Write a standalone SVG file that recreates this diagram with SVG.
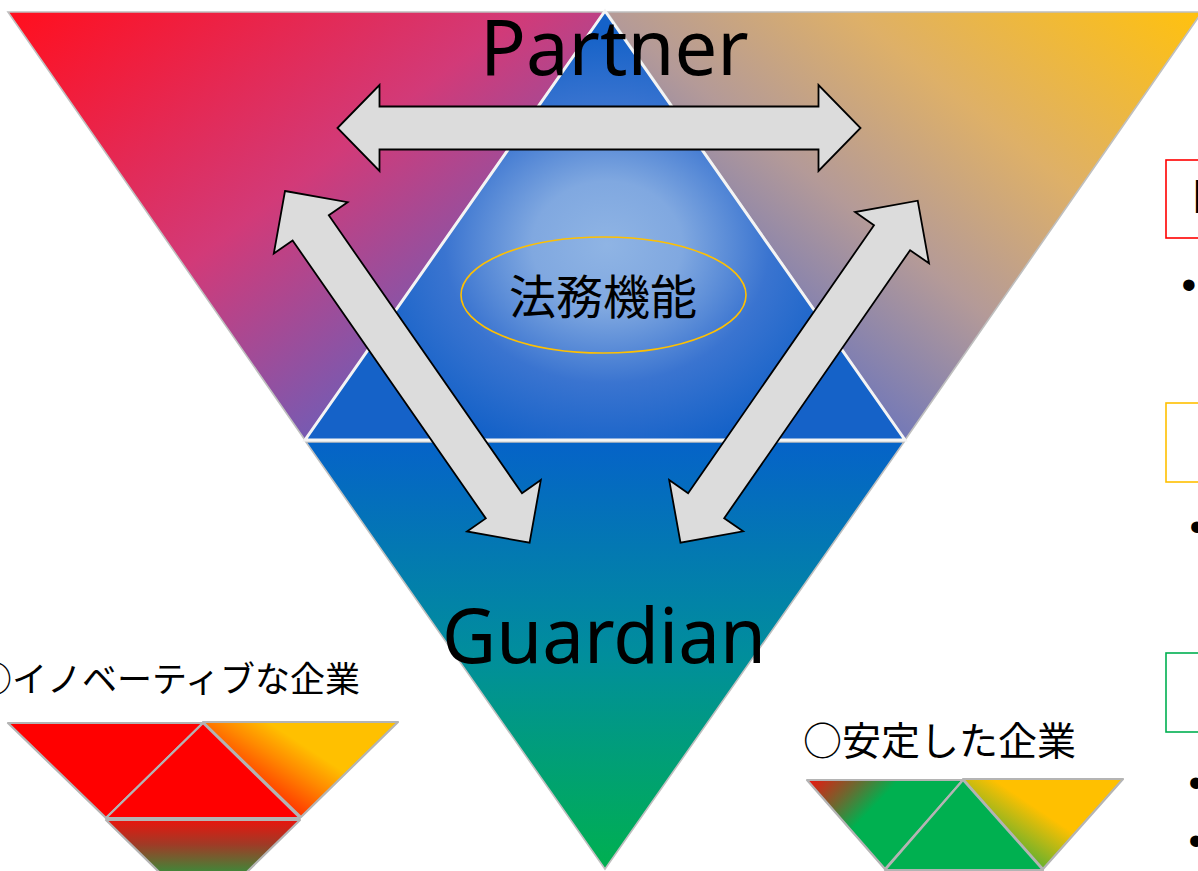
<svg xmlns="http://www.w3.org/2000/svg" width="1198" height="871" viewBox="0 0 1198 871">
<style>
.tri{stroke:#bfbfbf;stroke-width:1.6;stroke-linejoin:miter}
.small{stroke:#b4b4b4;stroke-width:2.2;stroke-linejoin:round}
.arrow{fill:#dcdcdc;stroke:#000;stroke-width:1.8;stroke-linejoin:miter}
.big{font-family:"Noto Sans","DejaVu Sans",sans-serif;fill:#000}
.jp{font-family:"Noto Sans CJK JP","Noto Sans",sans-serif;fill:#000}
.bul{font-family:"Liberation Sans",Arial,sans-serif;font-size:42px;fill:#000}
.box{fill:#fff;stroke-width:1.6}
</style>
<defs>
<linearGradient id="gLeft" gradientUnits="userSpaceOnUse" x1="40" y1="0" x2="400" y2="480">
<stop offset="0" stop-color="#ff1020"/>
<stop offset="0.5" stop-color="#d23a78"/>
<stop offset="0.9" stop-color="#6a5fba"/>
<stop offset="1" stop-color="#6360bc"/>
</linearGradient>
<linearGradient id="gRight" gradientUnits="userSpaceOnUse" x1="1180" y1="0" x2="800" y2="480">
<stop offset="0" stop-color="#ffc10f"/>
<stop offset="0.35" stop-color="#deb068"/>
<stop offset="0.6" stop-color="#b49a98"/>
<stop offset="0.85" stop-color="#7278b8"/>
<stop offset="1" stop-color="#6a74bc"/>
</linearGradient>
<radialGradient id="gCenter" gradientUnits="userSpaceOnUse" cx="607" cy="245" r="250" gradientTransform="translate(607 245) scale(1 0.85) translate(-607 -245)">
<stop offset="0" stop-color="#8fb4e4"/>
<stop offset="0.3" stop-color="#80a8e0"/>
<stop offset="0.65" stop-color="#3a74d0"/>
<stop offset="1" stop-color="#1562c8"/>
</radialGradient>
<linearGradient id="gBottom" gradientUnits="userSpaceOnUse" x1="0" y1="443" x2="0" y2="868">
<stop offset="0" stop-color="#0563c8"/>
<stop offset="0.5" stop-color="#018e9c"/>
<stop offset="1" stop-color="#00b050"/>
</linearGradient>
<linearGradient id="gInnoR" gradientUnits="userSpaceOnUse" x1="288" y1="812" x2="335" y2="740">
<stop offset="0" stop-color="#ff3000"/>
<stop offset="0.45" stop-color="#ff8a00"/>
<stop offset="0.75" stop-color="#ffc000"/>
<stop offset="1" stop-color="#ffc000"/>
</linearGradient>
<linearGradient id="gInnoB" gradientUnits="userSpaceOnUse" x1="0" y1="820" x2="0" y2="874">
<stop offset="0" stop-color="#e8160e"/>
<stop offset="0.45" stop-color="#a03a26"/>
<stop offset="1" stop-color="#3a8c3a"/>
</linearGradient>
<linearGradient id="gStabL" gradientUnits="userSpaceOnUse" x1="810" y1="780" x2="868" y2="836">
<stop offset="0" stop-color="#e81810"/>
<stop offset="0.45" stop-color="#6a6a30"/>
<stop offset="0.8" stop-color="#00b050"/>
<stop offset="1" stop-color="#00b050"/>
</linearGradient>
<linearGradient id="gStabR" gradientUnits="userSpaceOnUse" x1="1025" y1="860" x2="1075" y2="785">
<stop offset="0" stop-color="#60b030"/>
<stop offset="0.55" stop-color="#ffc000"/>
<stop offset="1" stop-color="#ffc000"/>
</linearGradient>
</defs>

<rect width="1198" height="871" fill="#fff"/>

<g id="node-left">
<polygon class="tri" points="8,12 604,12 305,440" fill="url(#gLeft)"/>
</g>
<g id="node-right">
<polygon class="tri" points="607,12 1202,12 905,440" fill="url(#gRight)"/>
</g>
<g id="node-bottom">
<polygon class="tri" points="306,442 904,442 605,869" fill="url(#gBottom)"/>
</g>
<g id="node-center">
<polygon points="605,11 305,440 905,440" fill="url(#gCenter)" stroke="#f4f4f4" stroke-width="3" stroke-linejoin="miter"/>
<ellipse cx="603.5" cy="295" rx="142.5" ry="58" fill="none" stroke="#ffc000" stroke-width="1.6"/>
<text class="jp" x="603" y="314" font-size="47" text-anchor="middle">法務機能</text>
</g>

<g id="connectors">
<polygon class="arrow" points="337.5,128 379.5,85 379.5,106.5 818.5,106.5 818.5,85 860.5,128 818.5,171 818.5,149.5 379.5,149.5 379.5,171"/>
<polygon class="arrow" points="285,191 347.6,202.2 328.8,215.3 522,493.2 540.8,480.1 529.6,542.7 467,531.5 485.8,518.4 292.6,240.5 273.8,253.6"/>
<polygon class="arrow" points="917.7,200.7 929,263.35 910.1,250.2 724.2,518.2 743.1,531.35 680.5,542.7 669.2,480.05 688.1,493.2 874,225.2 855.1,212.05"/>
</g>

<g id="label-partner">
<text class="big" x="480" y="75" font-size="76">Partner</text>
</g>
<g id="label-guardian">
<text class="big" x="442" y="663" font-size="76" textLength="324" lengthAdjust="spacingAndGlyphs">Guardian</text>
</g>

<g id="group-innovative">
<text class="jp" x="-23" y="692" font-size="35">○イノベーティブな企業</text>
<polygon class="small" points="8,723 203,723 106,818" fill="#ff0000"/>
<polygon class="small" points="203,722 398,722 301,817" fill="url(#gInnoR)"/>
<polygon class="small" points="106,820 300,820 203,915" fill="url(#gInnoB)"/>
<polygon class="small" points="203,723 106,818 300,818" fill="#ff0000"/>
</g>

<g id="group-stable">
<text class="jp" x="803" y="755" font-size="39">○安定した企業</text>
<polygon class="small" points="807,780 963,780 885,869" fill="url(#gStabL)"/>
<polygon class="small" points="963,779 1123,779 1043,869" fill="url(#gStabR)"/>
<polygon class="small" points="963,780 885,870 1043,870" fill="#00b050"/>
</g>

<g id="box-red">
<rect class="box" x="1166" y="160" width="60" height="78" stroke="#ff0000"/>
<text x="1191.5" y="213" font-family="Liberation Sans, Arial, sans-serif" font-size="48" fill="#000">I</text>
<text class="bul" x="1181.6" y="298.9">•</text>
</g>
<g id="box-yellow">
<rect class="box" x="1166" y="403" width="60" height="79" stroke="#ffc000"/>
<text class="bul" x="1189.6" y="540.9">•</text>
</g>
<g id="box-green">
<rect class="box" x="1166" y="653" width="60" height="79" stroke="#00b050"/>
<text class="bul" x="1188.6" y="796.9">•</text>
<text class="bul" x="1188.6" y="854.9">•</text>
</g>
</svg>
